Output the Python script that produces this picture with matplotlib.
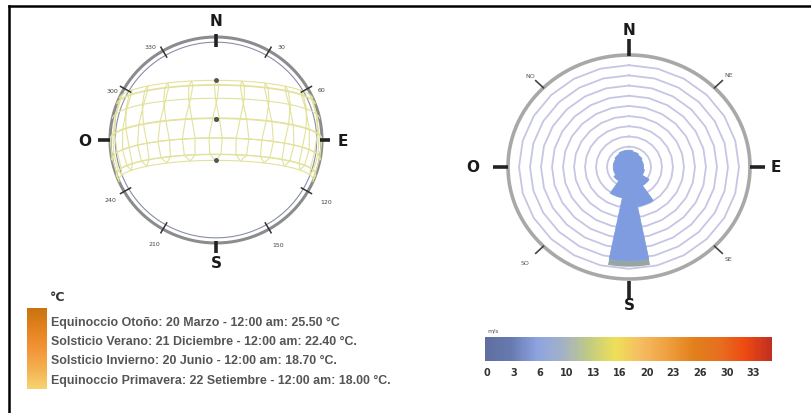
import numpy as np
import matplotlib
matplotlib.use("Agg")
import matplotlib.pyplot as plt
from matplotlib.colors import LinearSegmentedColormap
from matplotlib.lines import Line2D

W, H = 812, 414

# sun path data (site latitude, 21st of every month)
latitude = -12.0
month_decl = [-20.1, -10.9, 0.0, 11.9, 20.1, 23.4, 20.5, 11.9, 0.4, -10.8, -19.9, -23.4]
month_eot = [-11.1, -13.8, -7.3, 1.2, 3.5, -1.5, -6.3, -3.1, 6.9, 15.4, 14.1, 1.8]
hours = list(range(6, 19))
noon_decl = [0.0, -23.4, 23.4, 0.0]   # 20 Mar, 21 Dec, 20 Jun, 22 Sep
dial_angles = [30, 60, 120, 150, 210, 240, 300, 330]
dial_labels = ['30', '60', '120', '150', '210', '240', '300', '330']

legend_lines = [
    "Equinoccio Otoño: 20 Marzo - 12:00 am: 25.50 °C",
    "Solsticio Verano: 21 Diciembre - 12:00 am: 22.40 °C.",
    "Solsticio Invierno: 20 Junio - 12:00 am: 18.70 °C.",
    "Equinoccio Primavera: 22 Setiembre - 12:00 am: 18.00 °C.",
]
temp_colors = ['#c87412', '#e4821e', '#f29438', '#f4b050', '#f7d472']

# wind rose data: 16 directions from N clockwise, radius as share of outer ring
wind_dirs = ['N', 'NNE', 'NE', 'ENE', 'E', 'ESE', 'SE', 'SSE',
             'S', 'SSW', 'SW', 'WSW', 'W', 'WNW', 'NW', 'NNW']
wind_low = [0.15, 0.14, 0.13, 0.12, 0.12, 0.13, 0.2, 0.36,
            0.84, 0.28, 0.15, 0.13, 0.13, 0.13, 0.14, 0.15]
wind_high = [0, 0, 0, 0, 0, 0, 0, 0,
             0.05, 0, 0, 0, 0, 0, 0, 0]
speed_ticks = ['0', '3', '6', '10', '13', '16', '20', '23', '26', '30', '33']
speed_colors = ['#5f6e9e', '#687bb0', '#8ea4e2', '#a4b2c6', '#c2cc82',
                '#efe058', '#f6bc62', '#f0a040', '#e2801c', '#e67020',
                '#ee4a12', '#c03020']


def axes_px(cx, cy, rx, ry, lim):
    return [(cx - lim * rx) / W, (H - (cy + lim * ry)) / H,
            2 * lim * rx / W, 2 * lim * ry / H]


def sky_xy(decl, ha, lat):
    d, h, p = np.radians(decl), np.radians(ha), np.radians(lat)
    east = -np.cos(d) * np.sin(h)
    north = np.cos(p) * np.sin(d) - np.sin(p) * np.cos(d) * np.cos(h)
    up = np.sin(p) * np.sin(d) + np.cos(p) * np.cos(d) * np.cos(h)
    east = np.where(up >= 0, east, np.nan)
    north = np.where(up >= 0, north, np.nan)
    return east, north


def compass(ax, tick_in, tick_out, lab_r, fs):
    for name, az in zip(['N', 'E', 'S', 'O'], [0, 90, 180, 270]):
        s, c = np.sin(np.radians(az)), np.cos(np.radians(az))
        ax.plot([tick_in[az] * s, tick_out[az] * s],
                [tick_in[az] * c, tick_out[az] * c], color='#222222',
                lw=2.6, solid_capstyle='butt')
        ax.text(lab_r[az] * s, lab_r[az] * c, name, ha='center',
                va='center', fontsize=fs, fontweight='bold', color='#1a1a1a')


fig = plt.figure(figsize=(W / 100, H / 100), dpi=100)

# ---------- sun path ----------
lim = 1.45
ax = fig.add_axes(axes_px(216, 141, 106, 103, lim))
ax.set_xlim(-lim, lim)
ax.set_ylim(-lim, lim)
ax.axis('off')
t = np.linspace(0, 2 * np.pi, 361)
ax.plot(np.sin(t), np.cos(t), color='#8c8c8c', lw=2.2)
ax.plot(0.95 * np.sin(t), 0.95 * np.cos(t), color='#8890a8', lw=0.8)

ha = np.linspace(-120, 120, 481)
for d in sorted(set(month_decl)):
    e, n = sky_xy(d, ha, latitude)
    ax.plot(e, n, color='#e2e29c', lw=0.8)
for h in hours:
    hh = 15 * (h - 12) + np.array(month_eot + month_eot[:1]) / 4
    e, n = sky_xy(np.array(month_decl + month_decl[:1]), hh, latitude)
    ax.plot(e, n, color='#e2e29c', lw=0.8)
for d in noon_decl:
    e, n = sky_xy(d, 0.0, latitude)
    ax.plot(e, n, 'o', color='#555555', ms=2.5)

lab_r = [1.1, 1.11, 1.2, 1.17, 1.16, 1.15, 1.09, 1.1]
lab_off = [4, 4, 0, 0, 0, 0, -4, -4]
for a, lab, r, off in zip(dial_angles, dial_labels, lab_r, lab_off):
    s, c = np.sin(np.radians(a)), np.cos(np.radians(a))
    ax.plot([0.93 * s, 1.04 * s], [0.93 * c, 1.04 * c], color='#333333', lw=1.1)
    sl, cl = np.sin(np.radians(a + off)), np.cos(np.radians(a + off))
    ax.text(r * sl, r * cl, lab, ha='center', va='center', fontsize=4.5,
            color='#444444')
compass(ax, {0: 0.9, 90: 0.98, 180: 0.98, 270: 1.0},
        {0: 1.03, 90: 1.08, 180: 1.1, 270: 1.11},
        {0: 1.16, 90: 1.2, 180: 1.19, 270: 1.24}, 11)

# ---------- wind rose ----------
lim = 1.4
ax2 = fig.add_axes(axes_px(629, 168, 121, 112, lim))
ax2.set_xlim(-lim, lim)
ax2.set_ylim(-lim, lim)
ax2.axis('off')
tp = np.linspace(0, 2 * np.pi, 25)
for k in range(1, 11):
    r = k / 11
    ax2.plot(r * np.sin(tp), r * np.cos(tp), color='#c6c6e4', lw=1.3, zorder=1)
ax2.plot(np.sin(t), np.cos(t), color='#a8a8a8', lw=2.6)

for i, name in enumerate(wind_dirs):
    a = np.radians(np.linspace(i * 22.5 - 11.25, i * 22.5 + 11.25, 12))
    r0, r1 = wind_low[i], wind_low[i] + wind_high[i]
    ax2.fill(np.r_[0, r0 * np.sin(a)], np.r_[0, r0 * np.cos(a)],
             color='#7f9ce0', lw=0.6, ec='#7f9ce0', zorder=3)
    if wind_high[i] > 0:
        ax2.fill(np.r_[r0 * np.sin(a), r1 * np.sin(a[::-1])],
                 np.r_[r0 * np.cos(a), r1 * np.cos(a[::-1])],
                 color='#96a6a4', lw=0, zorder=3)

for lab, az, r in zip(['NE', 'SE', 'SO', 'NO'], [45, 135, 225, 315],
                      [1.17, 1.16, 1.21, 1.16]):
    s, c = np.sin(np.radians(az)), np.cos(np.radians(az))
    ax2.plot([1.0 * s, 1.09 * s], [1.0 * c, 1.09 * c], color='#444444', lw=1.2)
    ax2.text(r * s, r * c, lab, ha='center', va='center', fontsize=4.5,
             color='#555555')
compass(ax2, {0: 0.99, 90: 1.0, 180: 1.02, 270: 1.0},
        {0: 1.14, 90: 1.12, 180: 1.18, 270: 1.12},
        {0: 1.23, 90: 1.21, 180: 1.23, 270: 1.29}, 11)

# ---------- speed colour bar ----------
cax = fig.add_axes([485 / W, (H - 362) / H, 287 / W, 24 / H])
cmap = LinearSegmentedColormap.from_list('wind', speed_colors)
cax.imshow(np.linspace(0, 1, 256)[None, :], cmap=cmap, aspect='auto',
           extent=(-0.07, 10.7, 0, 1))
cax.set_xlim(-0.07, 10.7)
cax.set_ylim(0, 1)
cax.set_yticks([])
cax.set_xticks(range(len(speed_ticks)))
cax.set_xticklabels(speed_ticks, fontsize=7, fontweight='bold', color='#333333')
cax.tick_params(axis='x', length=0, pad=4)
for sp in cax.spines.values():
    sp.set_visible(False)
fig.text(487 / W, 1 - 331 / H, 'm/s', fontsize=4.5, color='#555555',
         ha='left', va='center')

# ---------- temperature legend ----------
tax = fig.add_axes([27 / W, (H - 390) / H, 20 / W, 81 / H])
tcmap = LinearSegmentedColormap.from_list('temp', temp_colors)
tax.imshow(np.linspace(0, 1, 128)[:, None], cmap=tcmap, aspect='auto')
tax.axis('off')
fig.text(50 / W, 1 - 298 / H, '°C', fontsize=9, fontweight='bold',
         color='#333333', va='center', ha='left')
for k, line in enumerate(legend_lines):
    fig.text(51 / W, 1 - (323 + 19.2 * k) / H, line, fontsize=8.9,
             family='Liberation Sans', fontweight='bold', color='#555555',
             va='center', ha='left')

# frame
fig.add_artist(Line2D([9 / W, 1], [1 - 7 / H, 1 - 7 / H], color='black', lw=1.8))
fig.add_artist(Line2D([9 / W, 9 / W], [0, 1 - 7 / H], color='black', lw=1.8))

fig.savefig('out.png', dpi=100, facecolor='white')
